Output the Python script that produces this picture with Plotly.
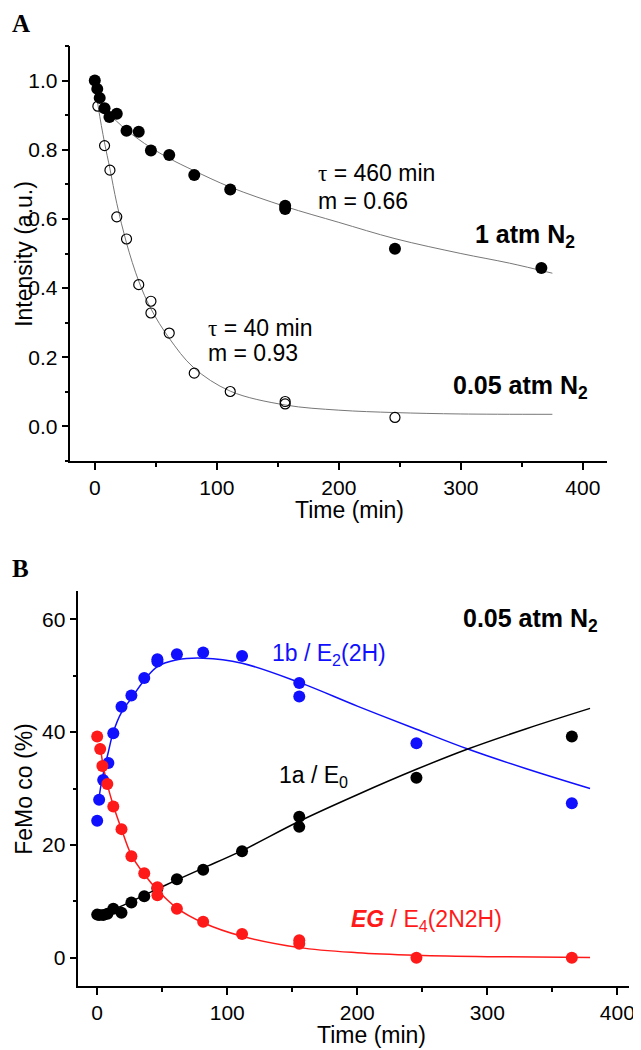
import plotly.graph_objects as go

# ---------------- Panel A data ----------------
t_1atm = [0, 2, 4, 8, 12, 18, 26, 36, 46, 61, 81.5, 111, 156, 156, 246, 366]
I_1atm = [1.0, 0.976, 0.95, 0.92, 0.895, 0.904, 0.855, 0.852, 0.798, 0.785, 0.727, 0.685, 0.638, 0.629, 0.514, 0.458]

t_005 = [2.5, 8, 12.4, 18, 26, 36, 46, 46, 61, 81.5, 111, 156, 156, 246]
I_005 = [0.926, 0.812, 0.741, 0.606, 0.542, 0.41, 0.362, 0.328, 0.27, 0.154, 0.101, 0.072, 0.065, 0.026]

# fitted curves
fit_1atm_t = [0, 2, 5, 10, 18, 26, 36, 46, 61, 81, 111, 156, 200, 246, 300, 340, 375]
fit_1atm_I = [1.0, 0.962, 0.935, 0.91, 0.882, 0.857, 0.83, 0.806, 0.775, 0.74, 0.692, 0.636, 0.59, 0.543, 0.5, 0.472, 0.443]
fit_005_t = [0, 3, 8, 12.4, 18, 26, 36, 46, 61, 81, 111, 156, 200, 246, 300, 375]
fit_005_I = [1.0, 0.92, 0.82, 0.745, 0.645, 0.53, 0.42, 0.34, 0.255, 0.17, 0.102, 0.062, 0.047, 0.04, 0.036, 0.035]

# ---------------- Panel B data ----------------
tB_blue = [0, 1.5, 4.6, 8.6, 12.4, 18.7, 26.3, 36.2, 46.3, 46.3, 61.3, 81.5, 111.4, 155.4, 155.4, 245.5, 365]
vB_blue = [24.3, 28.0, 31.5, 34.5, 39.8, 44.5, 46.5, 49.6, 52.9, 52.5, 53.8, 54.1, 53.5, 48.7, 46.3, 38.0, 27.4]

tB_black = [0, 1.5, 4.6, 7.9, 12.4, 18.7, 26.3, 36.2, 46.3, 61.3, 81.5, 111.4, 155.4, 155.4, 245.5, 365]
vB_black = [7.65, 7.6, 7.6, 7.8, 8.7, 8.0, 9.8, 10.9, 12.3, 13.9, 15.6, 18.9, 25.0, 23.2, 31.9, 39.2]

tB_red = [0, 2.3, 4.0, 7.8, 12.4, 18.7, 26.3, 36.2, 46.3, 46.3, 61.3, 81.5, 111.4, 155.4, 155.4, 245.5, 365]
vB_red = [39.2, 37.0, 34.0, 30.8, 26.8, 22.8, 18.0, 15.0, 12.5, 11.1, 8.7, 6.4, 4.2, 3.1, 2.5, 0.0, 0.0]

fitB_blue_t = [1, 2.5, 5, 8.6, 12.4, 18.7, 26.3, 36.2, 46.3, 61.3, 81.5, 111.4, 155.4, 200, 245.5, 285, 330, 379]
fitB_blue_v = [27.5, 30.0, 33.0, 36.5, 40.0, 43.5, 46.0, 49.2, 51.6, 52.8, 53.1, 52.2, 48.8, 44.6, 40.5, 37.0, 33.5, 30.0]
fitB_black_t = [0, 10, 20, 30, 46.3, 61.3, 81.5, 111.4, 155.4, 200, 245.5, 285, 330, 379]
fitB_black_v = [7.5, 8.3, 9.3, 10.4, 12.2, 13.8, 15.9, 19.0, 24.2, 28.9, 33.4, 37.0, 40.6, 44.2]
fitB_red_t = [2, 5, 8, 12.4, 18.7, 26.3, 36.2, 46.3, 61.3, 81.5, 111.4, 155.4, 200, 245.5, 300, 379]
fitB_red_v = [38.0, 33.5, 30.5, 27.0, 22.8, 18.2, 14.8, 12.0, 8.8, 6.2, 3.8, 1.8, 0.9, 0.45, 0.2, 0.07]

x_ticks = [0, 100, 200, 300, 400]
yA_ticks = [0.0, 0.2, 0.4, 0.6, 0.8, 1.0]
yA_labels = ["0.0", "0.2", "0.4", "0.6", "0.8", "1.0"]
yB_ticks = [0, 20, 40, 60]

BLUE = "#1010ff"
RED = "#ff1a1a"
SANS = "Liberation Sans, Arial, sans-serif"
SERIF = "Liberation Serif, Times New Roman, serif"

fig = go.Figure()

# Panel A
fig.add_trace(go.Scatter(x=fit_1atm_t, y=fit_1atm_I, mode="lines", line=dict(color="#777777", width=1, shape="spline"),
                         xaxis="x", yaxis="y", showlegend=False))
fig.add_trace(go.Scatter(x=fit_005_t, y=fit_005_I, mode="lines", line=dict(color="#777777", width=1, shape="spline"),
                         xaxis="x", yaxis="y", showlegend=False))
fig.add_trace(go.Scatter(x=t_005, y=I_005, mode="markers",
                         marker=dict(symbol="circle-open", size=10, color="black", line=dict(width=1.2, color="black")),
                         xaxis="x", yaxis="y", showlegend=False))
fig.add_trace(go.Scatter(x=t_1atm, y=I_1atm, mode="markers",
                         marker=dict(symbol="circle", size=12, color="black"),
                         xaxis="x", yaxis="y", showlegend=False))

# Panel B
for tt, vv, c in [(fitB_blue_t, fitB_blue_v, BLUE), (fitB_black_t, fitB_black_v, "black"), (fitB_red_t, fitB_red_v, RED)]:
    fig.add_trace(go.Scatter(x=tt, y=vv, mode="lines", line=dict(color=c, width=1.5, shape="spline"),
                             xaxis="x2", yaxis="y2", showlegend=False))
for tt, vv, c in [(tB_blue, vB_blue, BLUE), (tB_black, vB_black, "black"), (tB_red, vB_red, RED)]:
    fig.add_trace(go.Scatter(x=tt, y=vv, mode="markers", marker=dict(symbol="circle", size=12, color=c),
                             xaxis="x2", yaxis="y2", showlegend=False))

# page body has an 8px margin: the figure is offset by OFF pixels
OFF = 8
W, H = 641 - OFF, 1050 - OFF
def px(x):
    return (x - OFF) / W
def py(y):
    return 1 - (y - OFF) / H

axis_common = dict(showline=True, linecolor="black", linewidth=1.5, ticks="outside", ticklen=7, tickwidth=1.5,
                   tickcolor="black", showgrid=False, zeroline=False, mirror=False,
                   tickfont=dict(family=SANS, size=21, color="black"))

fig.update_layout(
    width=W, height=H, margin=dict(l=0, r=0, t=0, b=0),
    paper_bgcolor="white", plot_bgcolor="white",
    xaxis=dict(domain=[px(71), px(613)], range=[-20, 420], anchor="y", tickvals=x_ticks,
               minor=dict(dtick=50, tick0=50, ticks="outside", ticklen=4, tickwidth=1.5, tickcolor="black"),
               **axis_common),
    yaxis=dict(domain=[py(461), py(46)], range=[-0.1, 1.1], anchor="x", tickvals=yA_ticks, ticktext=yA_labels,
               minor=dict(dtick=0.2, tick0=0.1, ticks="outside", ticklen=4, tickwidth=1.5, tickcolor="black"),
               **axis_common),
    xaxis2=dict(domain=[px(79), px(635)], range=[-14.5, 409], anchor="y2", tickvals=x_ticks,
                minor=dict(dtick=50, tick0=50, ticks="outside", ticklen=4, tickwidth=1.5, tickcolor="black"),
                **axis_common),
    yaxis2=dict(domain=[py(986), py(591)], range=[-5, 65], anchor="x2", tickvals=yB_ticks,
                minor=dict(dtick=20, tick0=10, ticks="outside", ticklen=4, tickwidth=1.5, tickcolor="black"),
                **axis_common),
)

tau = '<span style="font-family:Liberation Serif">τ</span>'
ann = []
def add(text, x, y, xref, yref, size=23, color="black", xanchor="left", family=SANS, yanchor="middle", angle=0):
    ann.append(dict(text=text, x=x, y=y, xref=xref, yref=yref, showarrow=False, xanchor=xanchor, yanchor=yanchor,
                    textangle=angle, font=dict(family=family, size=size, color=color)))

# axis titles
add("Time (min)", px(353), py(510), "paper", "paper", xanchor="center")
add("Intensity (a.u.)", px(24), py(254), "paper", "paper", size=23, xanchor="center", angle=-90)
add("Time (min)", px(375), py(1035), "paper", "paper", xanchor="center")
add("FeMo co (%)", px(24), py(789), "paper", "paper", size=23, xanchor="center", angle=-90)

# panel A labels
add(tau + " = 460 min", 181, 0.734, "x", "y")
add("m = 0.66", 181, 0.653, "x", "y")
add("<b>1 atm N<sub>2</sub></b>", 310, 0.552, "x", "y", size=25)
add(tau + " = 40 min", 91, 0.286, "x", "y")
add("m = 0.93", 91, 0.213, "x", "y")
add("<b>0.05 atm N<sub>2</sub></b>", 292, 0.115, "x", "y", size=25)

# panel B labels
add("<b>0.05 atm N<sub>2</sub></b>", 280, 59.8, "x2", "y2", size=25)
add("1b / E<sub>2</sub>(2H)", 224, 53.8, "x2", "y2", color=BLUE, xanchor="right")
add("1a / E<sub>0</sub>", 138, 32.2, "x2", "y2")
add("<b><i>EG</i></b> / E<sub>4</sub>(2N2H)", 194, 6.65, "x2", "y2", color=RED)

# panel letters
add("<b>A</b>", px(10), 1.0, "paper", "paper", size=25, family=SERIF, yanchor="top")
add("<b>B</b>", px(10), py(568), "paper", "paper", size=25, family=SERIF)

fig.update_layout(annotations=ann)
fig.write_html("out.html")
